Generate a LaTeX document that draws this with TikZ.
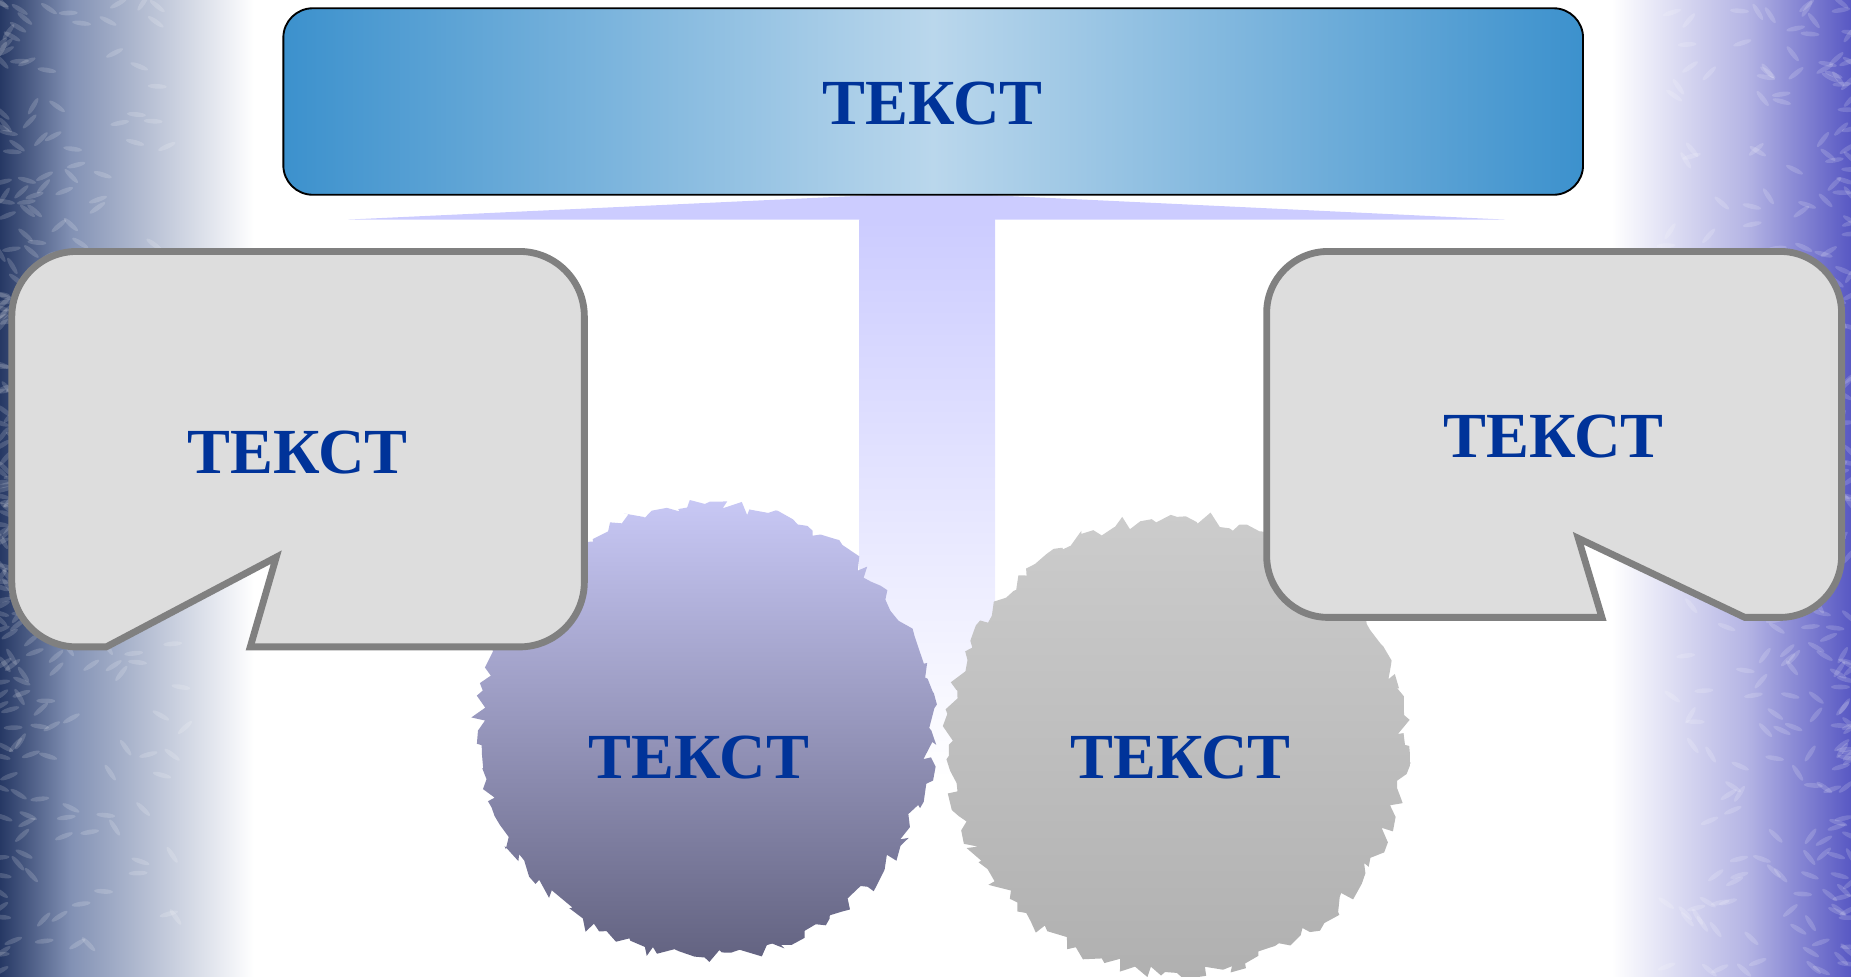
\documentclass[tikz,border=0pt]{standalone}
\usepackage{fontspec}
\setmainfont{Liberation Serif}[BoldFont={Liberation Serif Bold}]
\usepackage{tikz}
\usetikzlibrary{decorations.pathmorphing, positioning}
\definecolor{titleblue}{RGB}{60, 145, 205}
\definecolor{titlelight}{RGB}{186, 215, 236}
\definecolor{textblue}{RGB}{0, 51, 153}
\definecolor{stemlilac}{RGB}{204, 204, 255}
\definecolor{bubblefill}{RGB}{221, 221, 221}
\definecolor{bubbleedge}{RGB}{128, 128, 128}
\definecolor{inktop}{RGB}{200, 200, 245}
\definecolor{inkbottom}{RGB}{98, 98, 128}
\definecolor{greytop}{RGB}{204, 204, 204}
\definecolor{greybottom}{RGB}{176, 176, 176}
\definecolor{edgenavy}{RGB}{38, 56, 100}
\definecolor{edgemid}{RGB}{130, 145, 180}
\definecolor{edgelilac}{RGB}{180, 180, 228}
\definecolor{edgeviolet}{RGB}{88, 88, 195}

\begin{document}
\begin{tikzpicture}[
    x=0.02cm, y=-0.02cm,
    lbl/.style={font=\fontsize{31}{37}\selectfont\bfseries, text=textblue, inner sep=0pt},
    bubble/.style={draw=bubbleedge, line width=3.3pt, fill=bubblefill},
    blot/.style={decorate, decoration={random steps, segment length=4pt, amplitude=3.5pt}},
    grain/.style={white, opacity=0.16},
]
\useasboundingbox (0,0) rectangle (1568,827);
\pgfmathsetseed{11}

% Page edges
\shade[left color=edgenavy, right color=edgemid] (0,0) rectangle (60,827);
\shade[left color=edgemid, right color=white] (60,0) rectangle (215,827);
\shade[left color=white, right color=edgelilac] (1365,0) rectangle (1480,827);
\shade[left color=edgelilac, right color=edgeviolet] (1480,0) rectangle (1568,827);
\foreach \i in {1,...,300} {
    \fill[grain, shift={({160*rnd^2},{827*rnd})}, rotate=120*rnd-60] (0,0) ellipse (8 and 2);
    \fill[grain, shift={({1568-160*rnd^2},{827*rnd})}, rotate=120*rnd-60] (0,0) ellipse (8 and 2);
}

% Stem under the title
\fill[stemlilac] (295,186) -- (790,163) -- (1275,186) -- cycle;
\shade[top color=stemlilac, bottom color=white] (728,186) rectangle (843,660);

% Ink blots
\shade[blot, top color=inktop, bottom color=inkbottom] (597,619) circle (192);
\shade[blot, top color=greytop, bottom color=greybottom] (997,631) circle (193);
\node[lbl] (blot1) at (592,642) {ТЕКСТ};
\node[lbl] (blot2) at (1000,642) {ТЕКСТ};

% Callouts
\draw[bubble] (90,548) -- (234,472) -- (212,548) -- (440,548)
    arc[start angle=90, end angle=0, radius=55] -- (495,268)
    arc[start angle=0, end angle=-90, radius=55] -- (65,213)
    arc[start angle=-90, end angle=-180, radius=55] -- (10,493)
    arc[start angle=180, end angle=90, radius=55] -- cycle;
\node[lbl] (noteL) at (252,383) {ТЕКСТ};

\draw[bubble] (1357,523) -- (1337,456) -- (1478,523) -- (1508,523)
    arc[start angle=90, end angle=0, radius=52] -- (1560,265)
    arc[start angle=0, end angle=-90, radius=52] -- (1125,213)
    arc[start angle=-90, end angle=-180, radius=52] -- (1073,471)
    arc[start angle=180, end angle=90, radius=52] -- cycle;
\node[lbl] (noteR) at (1316,370) {ТЕКСТ};

% Title bar
\shade[draw=black, line width=0.9pt, rounded corners=0.5cm, left color=titleblue, right color=titleblue, middle color=titlelight] (240,7) rectangle (1341,165);
\node[lbl] (title) at (790,88) {ТЕКСТ};

\end{tikzpicture}
\end{document}
